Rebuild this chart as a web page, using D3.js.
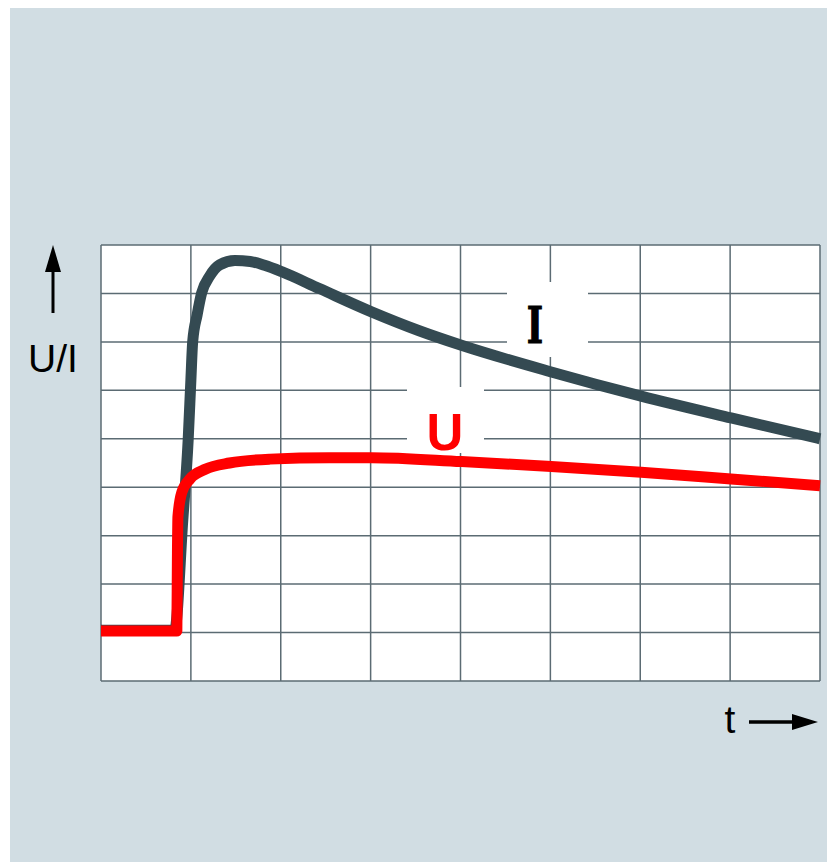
<!DOCTYPE html>
<html>
<head>
<meta charset="utf-8">
<script src="https://cdn.jsdelivr.net/npm/d3@7"></script>
<style>
  html, body { margin: 0; padding: 0; background: #fff; }
  svg { display: block; }
</style>
</head>
<body>
<div id="chart"></div>
<script>
// grid: 8 columns by 9 rows, values in grid units
const xCols = 8;
const yRows = 9;

const curveI = [
  [0, 1.05], [0.82, 1.05], [0.91, 3.32], [0.97, 4.98], [1.0, 6.21], [1.02, 7.0],
  [1.07, 7.56], [1.12, 8.01], [1.21, 8.36], [1.32, 8.59], [1.49, 8.68], [1.66, 8.66],
  [1.82, 8.58], [2.01, 8.45], [2.43, 8.1], [3.01, 7.62], [3.54, 7.23], [4.01, 6.93],
  [5.01, 6.38], [6.01, 5.88], [7.01, 5.43], [8.0, 5.0]
];

const curveU = [
  [0, 1.03], [0.844, 1.03], [0.85, 2.52], [0.856, 3.39], [0.9, 3.9], [0.99, 4.17],
  [1.16, 4.37], [1.43, 4.5], [1.88, 4.58], [2.54, 4.61], [3.01, 4.61], [4.01, 4.53],
  [5.01, 4.43], [6.01, 4.31], [7.01, 4.17], [8.0, 4.03]
];

const labels = { y: "U/I", x: "t", i: "I", u: "U" };

const width = 827, height = 862;
const plot = { left: 101, top: 245, right: 820, bottom: 681 };

const svg = d3.select("#chart").append("svg")
  .attr("width", width)
  .attr("height", height);

svg.append("rect")
  .attr("x", 10).attr("y", 8)
  .attr("width", width - 10).attr("height", height - 8)
  .attr("fill", "#d1dde3");

const x = d3.scaleLinear().domain([0, xCols]).range([plot.left, plot.right]);
const y = d3.scaleLinear().domain([0, yRows]).range([plot.bottom, plot.top]);

svg.append("rect")
  .attr("x", x(0)).attr("y", y(yRows))
  .attr("width", x(xCols) - x(0)).attr("height", y(0) - y(yRows))
  .attr("fill", "#fff");

const gridColor = "#5b6b73";
const grid = svg.append("g").attr("stroke", gridColor).attr("stroke-width", 1.5);
grid.selectAll(".v").data(d3.range(0, xCols + 1)).join("line")
  .attr("x1", d => x(d)).attr("x2", d => x(d))
  .attr("y1", y(0)).attr("y2", y(yRows));
grid.selectAll(".h").data(d3.range(0, yRows + 1)).join("line")
  .attr("y1", d => y(d)).attr("y2", d => y(d))
  .attr("x1", x(0)).attr("x2", x(xCols));

// white patches behind the curve labels
svg.append("rect").attr("x", 507).attr("y", 282).attr("width", 81).attr("height", 75).attr("fill", "#fff");
svg.append("rect").attr("x", 407).attr("y", 387).attr("width", 77).attr("height", 66).attr("fill", "#fff");

const line = d3.line()
  .x(d => x(d[0]))
  .y(d => y(d[1]))
  .curve(d3.curveMonotoneX);

svg.append("path")
  .attr("d", line(curveI))
  .attr("fill", "none")
  .attr("stroke", "#344a52")
  .attr("stroke-width", 11);

svg.append("path")
  .attr("d", line(curveU))
  .attr("fill", "none")
  .attr("stroke", "#ff0000")
  .attr("stroke-width", 11)
  .attr("stroke-linejoin", "round");

// curve labels
svg.append("text")
  .attr("transform", "translate(535,343) scale(0.7,1)")
  .attr("text-anchor", "middle")
  .attr("font-family", "DejaVu Serif")
  .attr("font-weight", "bold")
  .attr("font-size", 50)
  .attr("fill", "#000")
  .attr("stroke", "#000")
  .attr("stroke-width", 1.2)
  .text(labels.i);

svg.append("text")
  .attr("x", 445).attr("y", 450)
  .attr("text-anchor", "middle")
  .attr("font-family", "Liberation Sans")
  .attr("font-weight", "bold")
  .attr("font-size", 51)
  .attr("fill", "#ff0000")
  .text(labels.u);

// axis labels and arrows
svg.append("text")
  .attr("x", 53).attr("y", 372)
  .attr("text-anchor", "middle")
  .attr("font-family", "Liberation Sans")
  .attr("font-size", 39)
  .attr("fill", "#000")
  .text(labels.y);

svg.append("line")
  .attr("x1", 53).attr("x2", 53).attr("y1", 313).attr("y2", 265)
  .attr("stroke", "#000").attr("stroke-width", 3);
svg.append("path")
  .attr("d", "M53,245 L61,272 L45,272 Z")
  .attr("fill", "#000");

svg.append("text")
  .attr("x", 730).attr("y", 733)
  .attr("text-anchor", "middle")
  .attr("font-family", "Liberation Sans")
  .attr("font-size", 39)
  .attr("fill", "#000")
  .text(labels.x);

svg.append("line")
  .attr("x1", 749).attr("x2", 795).attr("y1", 722).attr("y2", 722)
  .attr("stroke", "#000").attr("stroke-width", 3.5);
svg.append("path")
  .attr("d", "M818,722 L792,714 L792,730 Z")
  .attr("fill", "#000");
</script>
</body>
</html>
